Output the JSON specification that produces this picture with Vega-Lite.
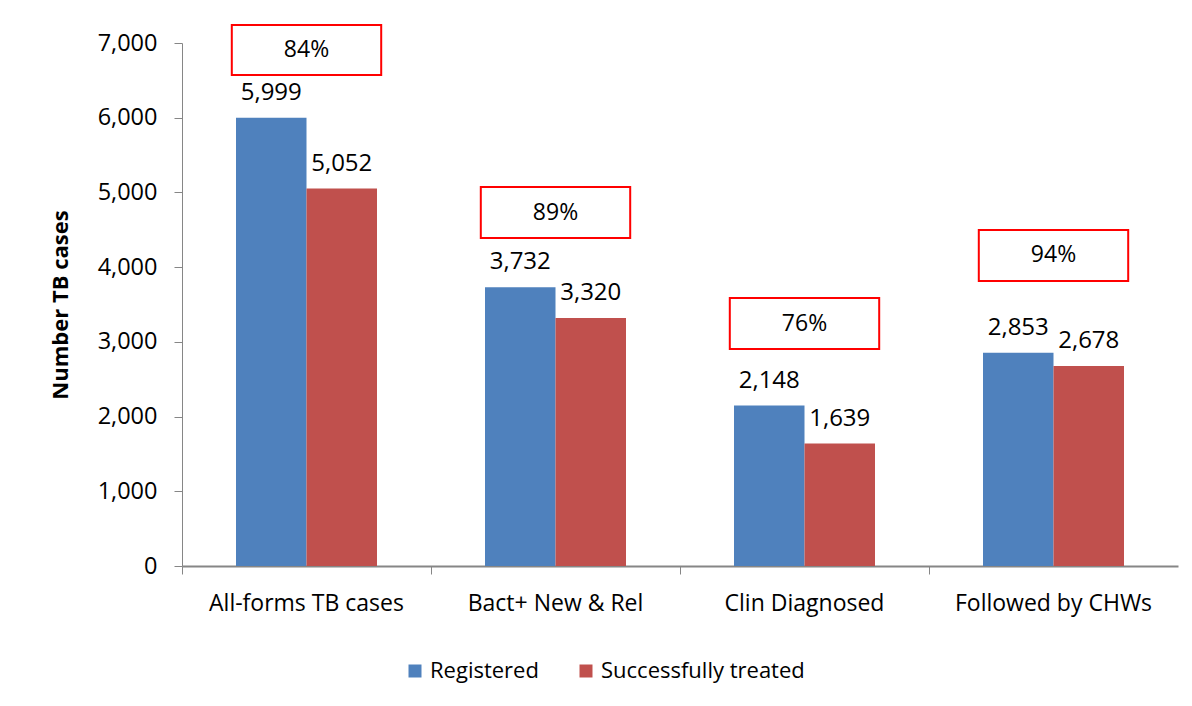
{
  "$schema": "https://vega.github.io/schema/vega-lite/v6.json",
  "autosize": "none",
  "width": 996,
  "height": 523,
  "padding": {"left": 182, "top": 43, "right": 14, "bottom": 140},
  "background": "white",
  "config": {
    "view": {"stroke": null},
    "font": "Open Sans",
    "axis": {"labelFont": "Open Sans", "titleFont": "Open Sans", "domainColor": "#868686", "tickColor": "#868686", "labelColor": "#000000", "titleColor": "#000000", "grid": false}
  },
  "datasets": {
    "bars": [
      {"category": "All-forms TB cases", "series": "Registered", "value": 5999},
      {"category": "All-forms TB cases", "series": "Successfully treated", "value": 5052},
      {"category": "Bact+ New & Rel", "series": "Registered", "value": 3732},
      {"category": "Bact+ New & Rel", "series": "Successfully treated", "value": 3320},
      {"category": "Clin Diagnosed", "series": "Registered", "value": 2148},
      {"category": "Clin Diagnosed", "series": "Successfully treated", "value": 1639},
      {"category": "Followed by CHWs", "series": "Registered", "value": 2853},
      {"category": "Followed by CHWs", "series": "Successfully treated", "value": 2678}
    ],
    "boxes": [
      {"category": "All-forms TB cases", "label": "84%", "top": 7241, "bottom": 6572, "mid": 6906},
      {"category": "Bact+ New & Rel", "label": "89%", "top": 5073, "bottom": 4390, "mid": 4731},
      {"category": "Clin Diagnosed", "label": "76%", "top": 3587, "bottom": 2904, "mid": 3245},
      {"category": "Followed by CHWs", "label": "94%", "top": 4497, "bottom": 3815, "mid": 4156}
    ]
  },
  "layer": [
    {
      "data": {"name": "bars"},
      "mark": {"type": "bar"},
      "encoding": {
        "x": {"field": "category", "type": "nominal", "sort": null,
              "scale": {"paddingInner": 0, "paddingOuter": 0},
              "axis": {"title": null, "labelAngle": 0, "labelFontSize": 23, "tickSize": 8, "labelPadding": 18, "bandPosition": 0, "domainWidth": 2, "tickWidth": 1, "labelLimit": 0}},
        "xOffset": {"field": "series", "type": "nominal", "sort": null,
                    "scale": {"paddingInner": 0, "paddingOuter": 0.766}},
        "y": {"field": "value", "type": "quantitative",
              "scale": {"domain": [0, 7000], "nice": false},
              "axis": {"title": "Number TB cases", "titleFontSize": 22, "titleFontWeight": "bold", "titleX": -122, "titleY": 261.5, "titleAngle": -90, "titleAlign": "center", "titleBaseline": "middle",
                       "values": [0, 1000, 2000, 3000, 4000, 5000, 6000, 7000], "labelExpr": "format(datum.value, ',')", "labelFontSize": 23.5, "tickSize": 8, "labelPadding": 17, "domainWidth": 1}},
        "color": {"field": "series", "type": "nominal", "sort": null,
                  "scale": {"domain": ["Registered", "Successfully treated"], "range": ["#4F81BD", "#C0504D"]},
                  "legend": {"title": null, "orient": "none", "legendX": 222, "legendY": 617, "direction": "horizontal",
                             "symbolType": "square", "symbolSize": 169, "symbolStrokeWidth": 0, "labelFontSize": 22, "labelFont": "Open Sans", "labelColor": "#000000", "columnPadding": 36, "labelOffset": 4, "labelLimit": 0}}
      }
    },
    {
      "data": {"name": "bars"},
      "mark": {"type": "text", "baseline": "alphabetic", "dy": -18, "fontSize": 24, "color": "#000000"},
      "encoding": {
        "x": {"field": "category", "type": "nominal", "sort": null},
        "xOffset": {"field": "series", "type": "nominal", "sort": null},
        "y": {"field": "value", "type": "quantitative"},
        "text": {"field": "value", "type": "quantitative", "format": ","}
      }
    },
    {
      "data": {"name": "boxes"},
      "mark": {"type": "bar", "fill": "white", "stroke": "#FF0000", "strokeWidth": 2, "width": {"band": 0.6}},
      "encoding": {
        "x": {"field": "category", "type": "nominal", "sort": null},
        "y": {"field": "top", "type": "quantitative"},
        "y2": {"field": "bottom"}
      }
    },
    {
      "data": {"name": "boxes"},
      "mark": {"type": "text", "baseline": "middle", "fontSize": 23, "color": "#000000"},
      "encoding": {
        "x": {"field": "category", "type": "nominal", "sort": null},
        "y": {"field": "mid", "type": "quantitative"},
        "text": {"field": "label", "type": "nominal"}
      }
    }
  ]
}
